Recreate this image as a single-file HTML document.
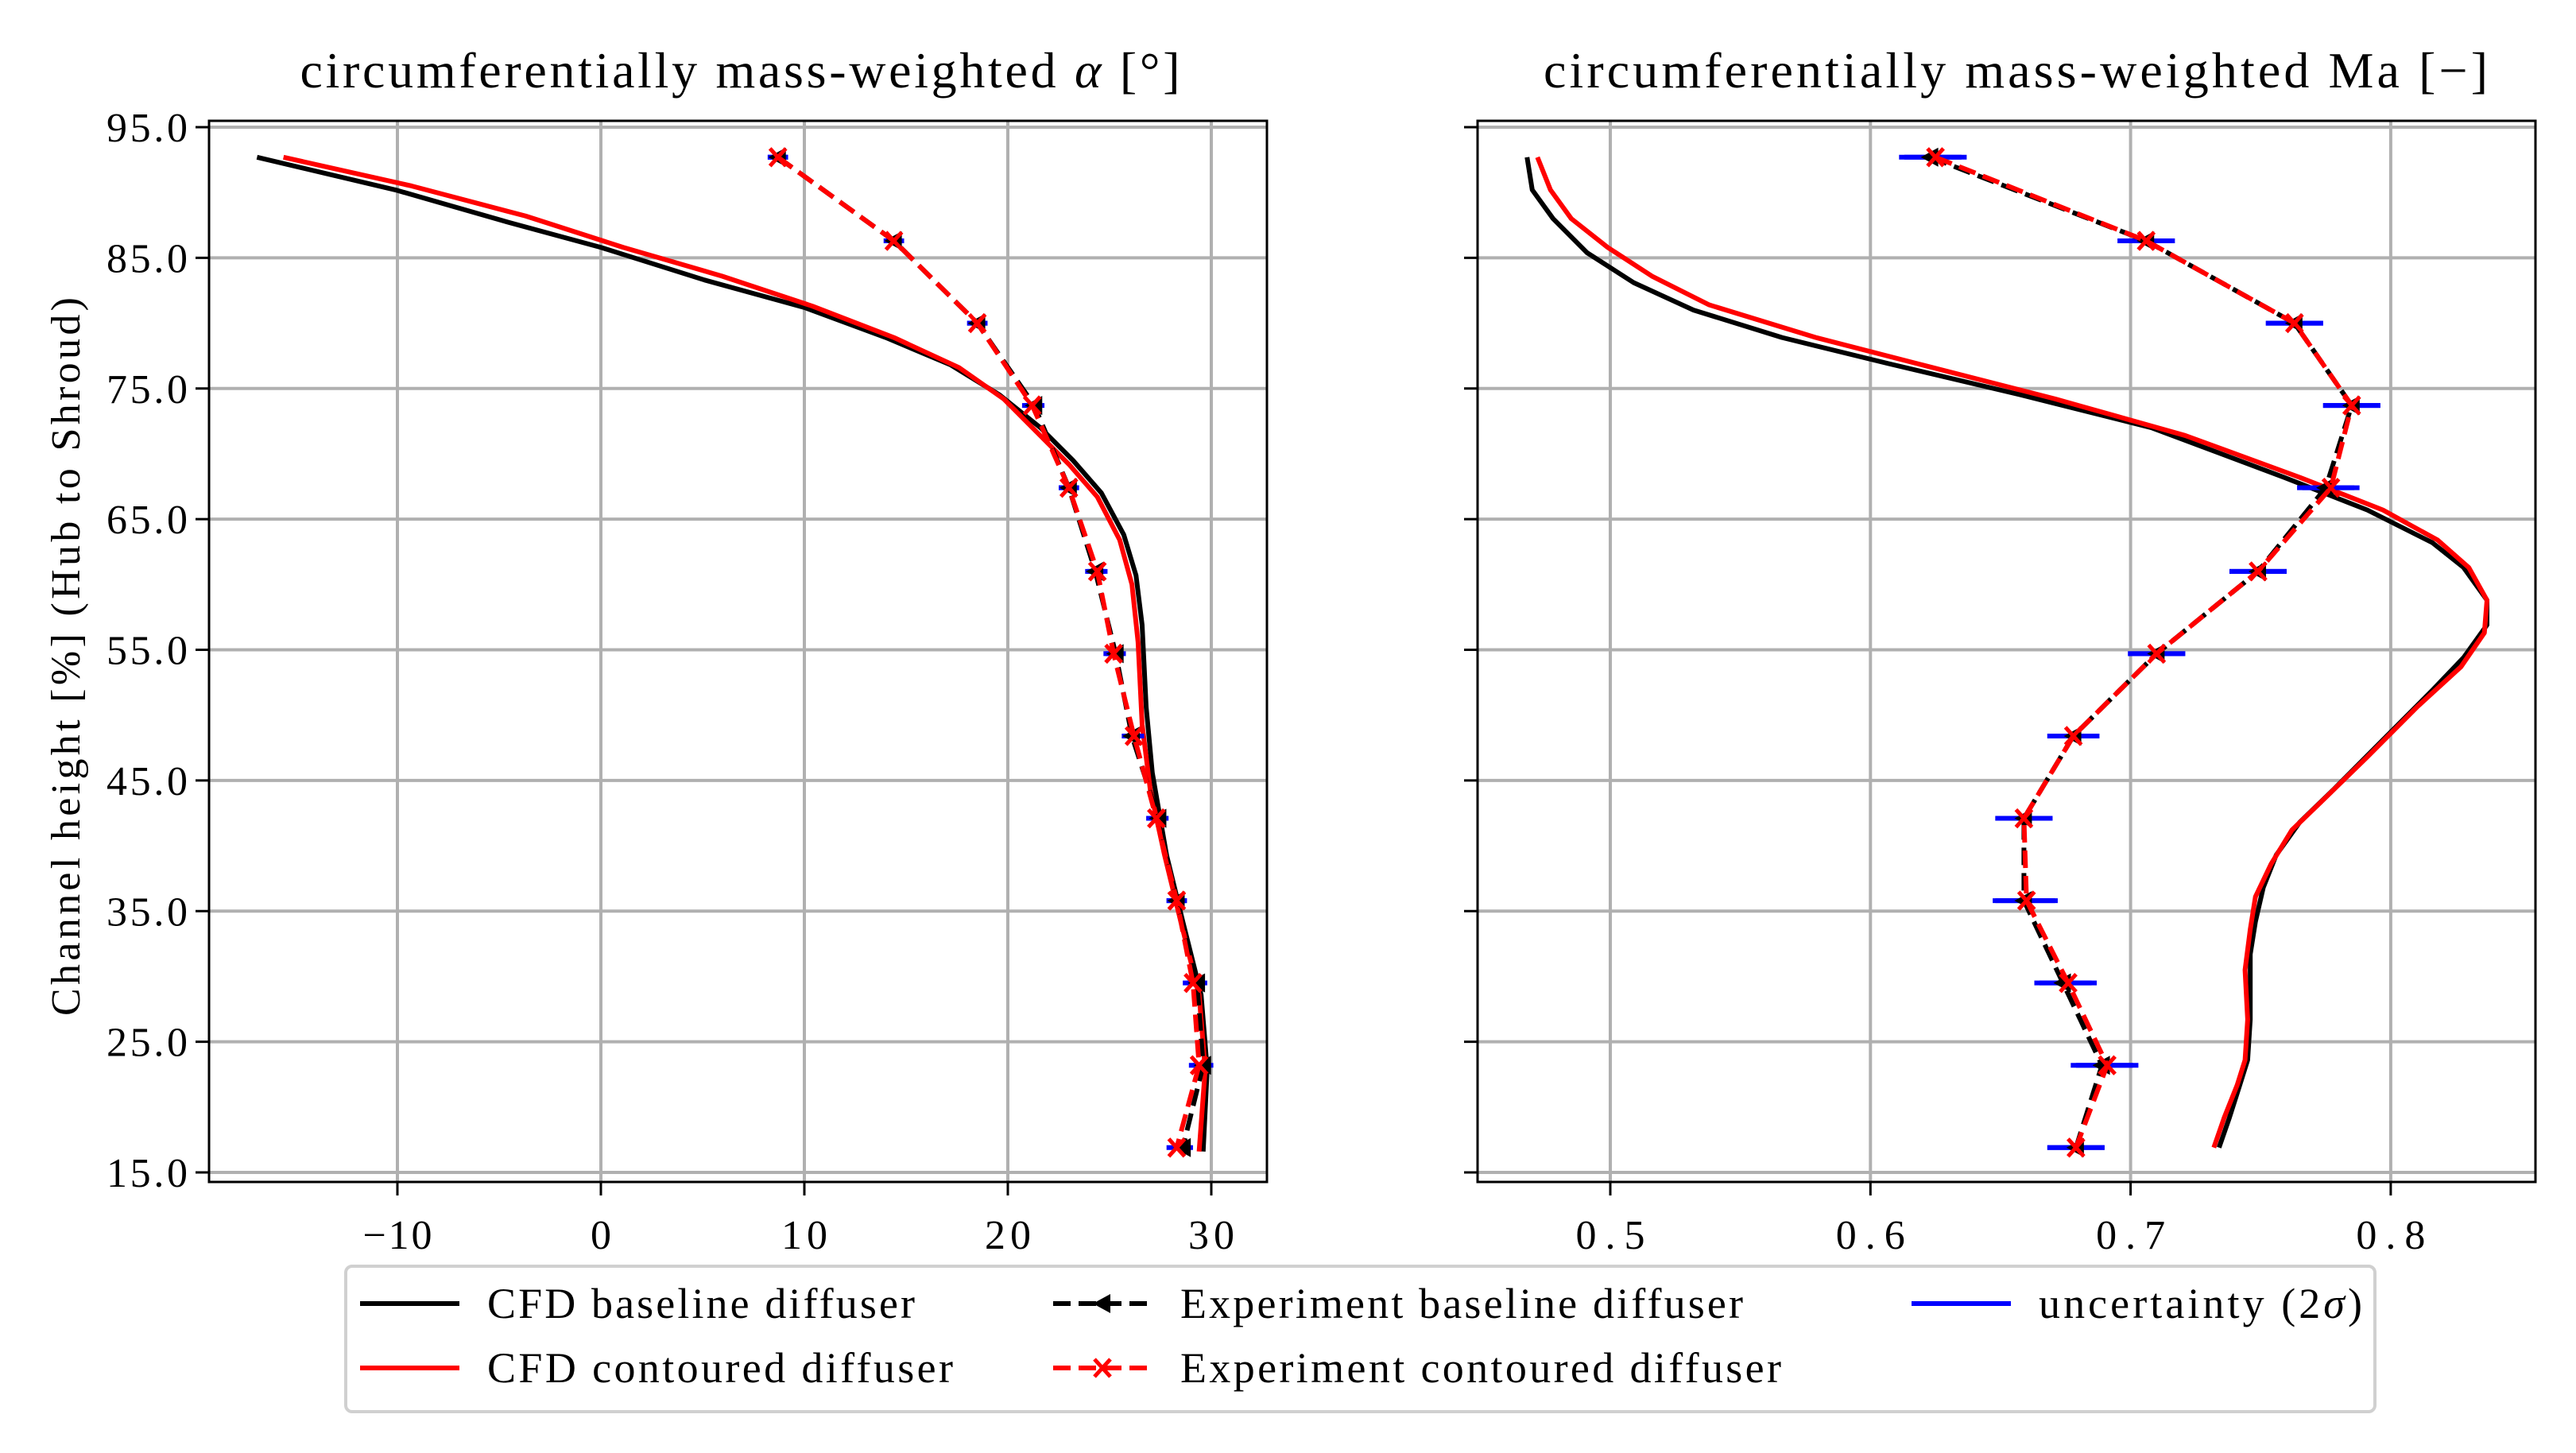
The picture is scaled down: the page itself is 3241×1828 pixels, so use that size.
<!DOCTYPE html>
<html><head><meta charset="utf-8"><style>
html,body{margin:0;padding:0;background:#fff;}
svg{display:block;font-family:"Liberation Serif","DejaVu Serif",serif;}
</style></head><body>
<svg id="chart" width="3241" height="1828" viewBox="0 0 3241 1828" xmlns="http://www.w3.org/2000/svg"></svg>
<script>
// ---------- data ----------
const expHeights = [92.7, 86.3, 80.0, 73.7, 67.4, 61.0, 54.7, 48.4, 42.1, 35.8, 29.5, 23.2, 16.9];
const alphaExpBase = [8.7, 14.4, 18.5, 21.3, 23.0, 24.3, 25.3, 26.1, 27.4, 28.3, 29.3, 29.6, 28.6];
const alphaExpCont = [8.7, 14.4, 18.5, 21.2, 23.0, 24.4, 25.2, 26.2, 27.3, 28.3, 29.1, 29.4, 28.3];
const alphaUnc = [0.5, 0.5, 0.5, 0.5, 0.5, 0.5, 0.5, 0.5, 0.5, 0.5, 0.5, 0.5, 0.5];
const maExpBase = [0.623, 0.706, 0.763, 0.785, 0.775, 0.749, 0.710, 0.678, 0.659, 0.659, 0.674, 0.689, 0.679];
const maExpCont = [0.625, 0.706, 0.763, 0.785, 0.777, 0.749, 0.710, 0.678, 0.659, 0.660, 0.676, 0.691, 0.679];
const maUnc = [0.012, 0.011, 0.011, 0.011, 0.011, 0.011, 0.011, 0.010, 0.011, 0.012, 0.011, 0.012, 0.011];

const alphaCfdBaseH = [92.7, 90.2, 87.7, 85.8, 83.3, 81.2, 78.9, 76.8, 74.5, 72.0, 69.5, 67.0, 63.8, 60.7, 56.9, 50.6, 45.6, 39.3, 34.2, 28.6, 22.9, 16.6];
const alphaCfdBase = [-16.9, -10.1, -4.5, 0, 5.1, 10.0, 14.0, 17.2, 19.6, 21.6, 23.2, 24.6, 25.7, 26.3, 26.6, 26.8, 27.1, 27.8, 28.6, 29.5, 29.8, 29.6];
const alphaCfdContH = [92.7, 90.5, 88.2, 85.8, 83.6, 81.3, 78.9, 76.6, 74.2, 71.7, 69.2, 66.7, 63.4, 60.0, 55.6, 49.3, 44.3, 39.3, 34.2, 28.6, 22.9, 16.6];
const alphaCfdCont = [-15.6, -9.3, -3.7, 1.1, 5.95, 10.4, 14.4, 17.6, 19.8, 21.4, 23.0, 24.4, 25.5, 26.1, 26.4, 26.6, 27.0, 27.7, 28.5, 29.4, 29.7, 29.4];

const maCfdBaseH = [92.7, 90.2, 88.0, 85.4, 83.1, 81.0, 78.9, 76.9, 74.5, 72.0, 68.2, 65.7, 63.2, 61.3, 58.8, 56.9, 54.4, 51.9, 48.1, 44.3, 41.8, 39.3, 36.8, 34.2, 31.7, 26.7, 23.6, 21.7, 19.2, 16.9];
const maCfdBase = [0.468, 0.470, 0.478, 0.491, 0.509, 0.532, 0.566, 0.607, 0.658, 0.708, 0.759, 0.791, 0.816, 0.828, 0.837, 0.837, 0.828, 0.816, 0.797, 0.778, 0.765, 0.756, 0.751, 0.748, 0.746, 0.746, 0.745, 0.742, 0.738, 0.734];
const maCfdContH = [92.7, 90.2, 88.0, 85.8, 83.6, 81.4, 78.9, 76.8, 74.2, 71.4, 68.2, 65.7, 63.4, 61.3, 58.8, 56.3, 53.7, 50.6, 46.8, 43.7, 41.2, 38.6, 36.1, 33.6, 30.5, 26.7, 23.6, 21.7, 19.2, 16.9];
const maCfdCont = [0.472, 0.477, 0.485, 0.499, 0.516, 0.538, 0.579, 0.620, 0.671, 0.721, 0.765, 0.797, 0.818, 0.830, 0.837, 0.836, 0.827, 0.810, 0.791, 0.775, 0.762, 0.754, 0.748, 0.746, 0.744, 0.745, 0.744, 0.741, 0.736, 0.732];

const yTicks = [15, 25, 35, 45, 55, 65, 75, 85, 95];
const yTickLabels = ["15.0", "25.0", "35.0", "45.0", "55.0", "65.0", "75.0", "85.0", "95.0"];
const alphaTicks = [-10, 0, 10, 20, 30];
const alphaTickLabels = ["\u221210", "0", "10", "20", "30"];
const maTicks = [0.5, 0.6, 0.7, 0.8];
const maTickLabels = ["0.5", "0.6", "0.7", "0.8"];

// ---------- helpers ----------
const NS = "http://www.w3.org/2000/svg";
const svg = document.getElementById("chart");
function mk(tag, attrs, parent) {
  const e = document.createElementNS(NS, tag);
  for (const k in attrs) e.setAttribute(k, attrs[k]);
  (parent || svg).appendChild(e);
  return e;
}
const Y = h => 160 + (95 - h) * 16.4375;
const L = {x0: 263, x1: 1594, y0: 152, y1: 1487};
const R = {x0: 1859, x1: 3190, y0: 152, y1: 1487};
const XA = v => 756 + v * 25.6;
const XM = v => 2026 + (v - 0.5) * 3273;

function drawAxes(ax, X, xt, xl, showY, name) {
  const g = mk("g", {});
  
  
  xt.forEach((t, i) => {
    const gl = mk("line", {x1: X(t), x2: X(t), y1: ax.y0, y2: ax.y1, stroke: "#b0b0b0", "stroke-width": 4}, g);
    
    
    mk("line", {x1: X(t), x2: X(t), y1: ax.y1, y2: ax.y1 + 17, stroke: "#000", "stroke-width": 3}, g);
    const tx = mk("text", {x: X(t), y: ax.y1 + 84, "text-anchor": "middle", "font-size": 52}, g);
    tx.textContent = xl[i];
    tx.setAttribute("textLength", xl[i].length * 29);
    
    
  });
  yTicks.forEach((t, i) => {
    const gl = mk("line", {x1: ax.x0, x2: ax.x1, y1: Y(t), y2: Y(t), stroke: "#b0b0b0", "stroke-width": 4}, g);
    
    
    mk("line", {x1: ax.x0 - 17, x2: ax.x0, y1: Y(t), y2: Y(t), stroke: "#000", "stroke-width": 3}, g);
    if (showY) {
      const tx = mk("text", {x: ax.x0 - 27, y: Y(t) + 18, "text-anchor": "end", "font-size": 52, textLength: 102}, g);
      tx.textContent = yTickLabels[i];
      
      
    }
  });
}
function line(X, xs, hs, color, dash, name) {
  const p = mk("polyline", {points: xs.map((v, i) => X(v) + "," + Y(hs[i])).join(" "), fill: "none", stroke: color, "stroke-width": 6, "stroke-linejoin": "round"});
  if (dash) p.setAttribute("stroke-dasharray", "22 10");
  
  
}
function errbars(X, xs, unc, name) {
  xs.forEach((v, i) => {
    const e = mk("line", {x1: X(v - unc[i]), x2: X(v + unc[i]), y1: Y(expHeights[i]), y2: Y(expHeights[i]), stroke: "#0000ff", "stroke-width": 6});
    
    
  });
}
function triMarker(cx, cy, parent) {
  return mk("polygon", {points: `${cx-12},${cy} ${cx+10},${cy-12} ${cx+10},${cy+12}`, fill: "#000"}, parent);
}
function xMarker(cx, cy, parent) {
  const g = mk("g", {stroke: "#ff0000", "stroke-width": 5}, parent);
  mk("line", {x1: cx-10, y1: cy-11, x2: cx+10, y2: cy+11}, g);
  mk("line", {x1: cx-10, y1: cy+11, x2: cx+10, y2: cy-11}, g);
  return g;
}
function markers(X, xs, kind, name) {
  xs.forEach((v, i) => {
    const m = kind === "tri" ? triMarker(X(v), Y(expHeights[i])) : xMarker(X(v), Y(expHeights[i]));
    
    
  });
}
function spines(ax, name) {
  const r = mk("rect", {x: ax.x0, y: ax.y0, width: ax.x1 - ax.x0, height: ax.y1 - ax.y0, fill: "none", stroke: "#000", "stroke-width": 3});
  
  
}

// ---------- left panel ----------
drawAxes(L, XA, alphaTicks, alphaTickLabels, true, "alpha-axes");
line(XA, alphaCfdBase, alphaCfdBaseH, "#000", false, "alpha-cfd-baseline-line");
line(XA, alphaCfdCont, alphaCfdContH, "#ff0000", false, "alpha-cfd-contoured-line");
errbars(XA, alphaExpBase, alphaUnc, "alpha-baseline-errorbar");
errbars(XA, alphaExpCont, alphaUnc, "alpha-contoured-errorbar");
line(XA, alphaExpBase, expHeights, "#000", true, "alpha-exp-baseline-line");
markers(XA, alphaExpBase, "tri", "alpha-exp-baseline-marker");
line(XA, alphaExpCont, expHeights, "#ff0000", true, "alpha-exp-contoured-line");
markers(XA, alphaExpCont, "x", "alpha-exp-contoured-marker");
spines(L, "alpha-plot-frame");

// ---------- right panel ----------
drawAxes(R, XM, maTicks, maTickLabels, false, "mach-axes");
line(XM, maCfdBase, maCfdBaseH, "#000", false, "mach-cfd-baseline-line");
line(XM, maCfdCont, maCfdContH, "#ff0000", false, "mach-cfd-contoured-line");
errbars(XM, maExpBase, maUnc, "mach-baseline-errorbar");
errbars(XM, maExpCont, maUnc, "mach-contoured-errorbar");
line(XM, maExpBase, expHeights, "#000", true, "mach-exp-baseline-line");
markers(XM, maExpBase, "tri", "mach-exp-baseline-marker");
line(XM, maExpCont, expHeights, "#ff0000", true, "mach-exp-contoured-line");
markers(XM, maExpCont, "x", "mach-exp-contoured-marker");
spines(R, "mach-plot-frame");

// ---------- titles ----------
let t = mk("text", {x: 931, y: 110, "text-anchor": "middle", "font-size": 64, textLength: 1107});
t.innerHTML = 'circumferentially mass-weighted <tspan font-style="italic">α</tspan> [°]';


t = mk("text", {x: 2536, y: 110, "text-anchor": "middle", "font-size": 64, textLength: 1188});
t.textContent = "circumferentially mass-weighted Ma [\u2212]";


t = mk("text", {x: 0, y: 0, "text-anchor": "middle", "font-size": 52, textLength: 904, transform: "translate(100,826) rotate(-90)"});
t.textContent = "Channel height [%] (Hub to Shroud)";



// ---------- legend ----------
const lg = mk("g", {});


mk("rect", {x: 435, y: 1593, width: 2553, height: 183, rx: 8, fill: "#fff", stroke: "#d0d0d0", "stroke-width": 4}, lg);
function legendEntry(x, y, label, color, dash, marker, len, name) {
  const g = mk("g", {}, lg);
  
  
  const l = mk("line", {x1: x, x2: x + 125, y1: y, y2: y, stroke: color, "stroke-width": 6}, g);
  if (dash) l.setAttribute("stroke-dasharray", "22 10");
  if (marker === "tri") triMarker(x + 62, y, g);
  if (marker === "x") xMarker(x + 62, y, g);
  const tx = mk("text", {x: x + 160, y: y + 18, "font-size": 54, textLength: len}, g);
  tx.innerHTML = label;
}
legendEntry(453, 1640, "CFD baseline diffuser", "#000", false, null, 538, "legend-cfd-baseline");
legendEntry(453, 1721, "CFD contoured diffuser", "#ff0000", false, null, 586, "legend-cfd-contoured");
legendEntry(1325, 1640, "Experiment baseline diffuser", "#000", true, "tri", 708, "legend-exp-baseline");
legendEntry(1325, 1721, "Experiment contoured diffuser", "#ff0000", true, "x", 756, "legend-exp-contoured");
legendEntry(2405, 1640, 'uncertainty (2<tspan font-style="italic">σ</tspan>)', "#0000ff", false, null, 407, "legend-uncertainty");
</script>
</body></html>
